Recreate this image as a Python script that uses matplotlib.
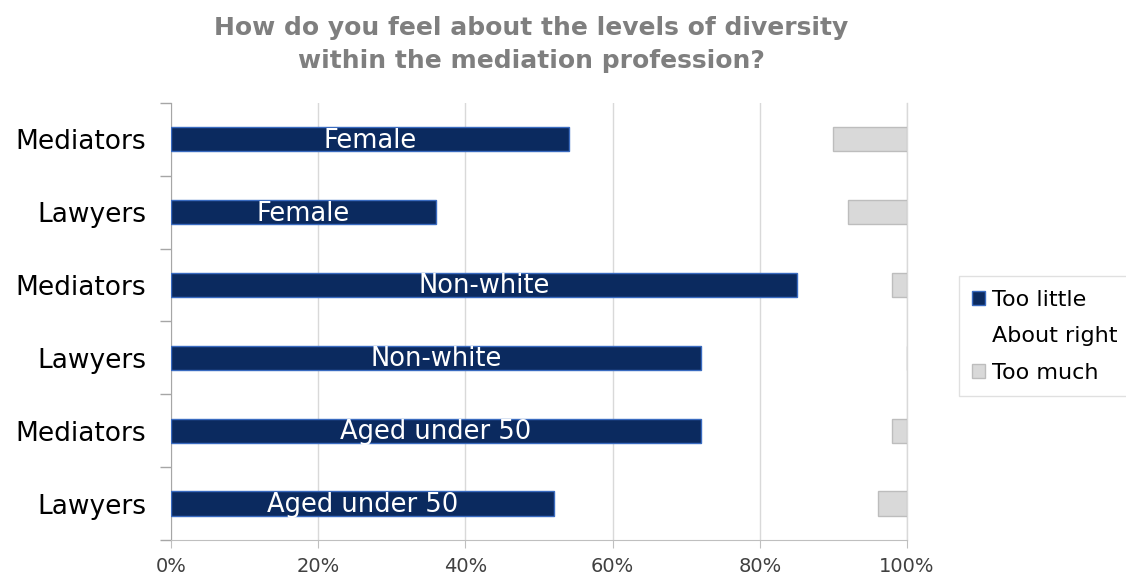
import matplotlib
matplotlib.use("Agg")
from matplotlib import pyplot as plt
from matplotlib.ticker import PercentFormatter
import numpy as np

groups = ["Mediators", "Lawyers", "Mediators", "Lawyers", "Mediators", "Lawyers"]
topics = ["Female", "Female", "Non-white", "Non-white", "Aged under 50", "Aged under 50"]
too_little = [54, 36, 85, 72, 72, 52]
too_much = [10, 8, 2, 0, 2, 4]
about_right = [100 - a - b for a, b in zip(too_little, too_much)]

navy = "#0b2a5f"
navy_edge = "#3a6bc0"
grey = "#d9d9d9"
grey_edge = "#bdbdbd"

plt.rcParams['font.family'] = ['DejaVu Sans']

fig = plt.figure(figsize=(11.26, 5.75), dpi=100)
ax = fig.add_axes([0.152, 0.061, 0.6535, 0.76])

y = np.arange(len(groups))[::-1]
h = 0.33
left = np.zeros(len(groups))
b1 = ax.barh(y, too_little, h, left=left, color=navy, edgecolor=navy_edge, linewidth=1, label="Too little", zorder=3)
left += too_little
# about right is drawn with no fill, so only the legend entry shows
b2 = ax.barh(y, about_right, h, left=left, color="none", edgecolor="none", linewidth=0, label="About right", zorder=3)
left += about_right
b3 = ax.barh(y, too_much, h, left=left, color=grey, edgecolor=grey_edge, linewidth=1, label="Too much", zorder=3)

for yi, val, txt in zip(y, too_little, topics):
    ax.text(val / 2, yi - 0.02, txt, color="white", ha="center", va="center", fontsize=18.5, zorder=4)

ax.set_xlim(0, 100)
ax.set_ylim(-0.5, len(groups) - 0.5)
ax.set_xticks([0, 20, 40, 60, 80, 100])
ax.xaxis.set_major_formatter(PercentFormatter(decimals=0))
ax.set_yticks(y)
ax.set_yticklabels(groups, fontsize=19)
ax.set_yticks(np.arange(-0.5, len(groups), 1), minor=True)
ax.tick_params(axis="y", which="major", length=0, pad=18)
ax.tick_params(axis="y", which="minor", length=8, color="#a6a6a6", width=1)
ax.tick_params(axis="x", length=6, color="#bfbfbf", labelsize=14, labelcolor="#404040", pad=6)
ax.grid(axis="x", color="#d9d9d9", linewidth=1, zorder=0)
ax.axvline(100, color="#d9d9d9", linewidth=1, zorder=0, clip_on=False)
for s in ["top", "right"]:
    ax.spines[s].set_visible(False)
ax.spines["left"].set_color("#a6a6a6")
ax.spines["bottom"].set_color("#bfbfbf")

fig.suptitle("How do you feel about the levels of diversity\nwithin the mediation profession?",
             x=0.472, y=0.972, fontsize=18, fontweight="bold", color="#7f7f7f", linespacing=1.45)

leg = ax.legend(handles=[b1, b2, b3], loc="center left", bbox_to_anchor=(1.055, 0.466),
                fontsize=16, frameon=True, fancybox=False, edgecolor="#d9d9d9",
                handlelength=0.6, handleheight=0.6, handletextpad=0.3, labelspacing=0.75,
                borderpad=0.6)
leg.get_frame().set_linewidth(1)

fig.savefig("out.png", dpi=100)
